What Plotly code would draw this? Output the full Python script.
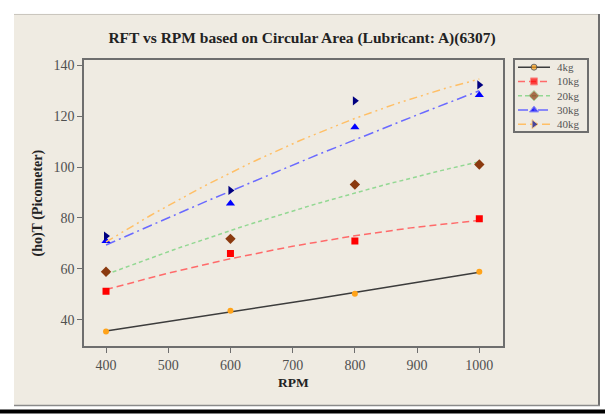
import numpy as np
import plotly.graph_objects as go

# ---- data ----
rpm = [400, 600, 800, 1000]
load_labels = ["4kg", "10kg", "20kg", "30kg", "40kg"]
ho_4kg = [35.4, 43.6, 50.2, 58.9]
ho_10kg = [51.2, 66.0, 71.0, 79.7]
ho_20kg = [58.9, 71.8, 93.1, 101.0]
ho_30kg = [71.0, 85.7, 115.6, 128.3]
ho_40kg = [72.9, 90.8, 126.0, 132.2]
x_ticks = [400, 500, 600, 700, 800, 900, 1000]
y_ticks = [40, 60, 80, 100, 120, 140]

series = [ho_4kg, ho_10kg, ho_20kg, ho_30kg, ho_40kg]

# ---- styles ----
line_colors = ["#3c3c3c", "#ff6a6a", "#93d893", "#6a6aff", "#ffbf66"]
line_dashes = ["solid", "7px,4px", "4px,3px", "10px,4px,2px,4px", "8px,4px,2px,4px,2px,4px"]
marker_colors = ["#ffa31a", "#ff0000", "#8b3a0f", "#0000ff", "#000080"]
marker_symbols = ["circle", "square", "diamond", "triangle-up", "triangle-right"]
marker_sizes = [6, 7, 8, 8, 8]

W, H = 605, 415
FONT = "Liberation Serif"


def fx(px):
    """figure pixel column -> paper x"""
    return px / W


def fy(py):
    """figure pixel row -> paper y"""
    return 1 - py / H


# plot and key boxes (figure pixels)
PLOT_L, PLOT_R, PLOT_T, PLOT_B = 84, 502.7, 58.3, 346
LEG_L, LEG_R, LEG_T, LEG_B = 515, 587, 58.3, 130
LEG_W = LEG_R - LEG_L
KEY_X0, KEY_X1, KEY_TEXT_X = 3, 35, 40

fig = go.Figure()

x_fit = np.linspace(min(rpm), max(rpm), 61)
for i, (name, vals, lc, ld, mc, ms, msz) in enumerate(
        zip(load_labels, series, line_colors, line_dashes,
            marker_colors, marker_symbols, marker_sizes)):
    # quadratic trend through the measured points
    coef = np.polyfit(rpm, vals, 2)
    fig.add_trace(go.Scatter(
        x=x_fit, y=np.polyval(coef, x_fit), mode="lines",
        line=dict(color=lc, width=1.5, dash=ld),
        showlegend=False, hoverinfo="skip"))
    fig.add_trace(go.Scatter(
        x=rpm, y=vals, mode="markers", name=name,
        marker=dict(color=mc, symbol=ms, size=msz),
        showlegend=False))
    # compact key on its own small axes: sample line with marker, one row per load
    fig.add_trace(go.Scatter(
        x=[KEY_X0, (KEY_X0 + KEY_X1) / 2, KEY_X1], y=[i, i, i],
        xaxis="x2", yaxis="y2",
        mode="lines+markers", showlegend=False, hoverinfo="skip",
        line=dict(color=lc, width=1.5, dash=ld),
        marker=dict(color=mc, symbol=ms, size=[0, msz, 0])))

annotations = [
    dict(text=name, x=KEY_TEXT_X, y=i, xref="x2", yref="y2", xanchor="left",
         yanchor="middle", showarrow=False,
         font=dict(family=FONT, size=11, color="#555555"))
    for i, name in enumerate(load_labels)
]

axis_common = dict(
    showgrid=False, zeroline=False, showline=True, mirror=True,
    linecolor="#6e6e6e", linewidth=1.5,
    ticks="outside", ticklen=5, tickwidth=1, tickcolor="#6e6e6e",
    tickfont=dict(family=FONT, size=14, color="#505050"),
)

shapes = [
    # outer panel
    dict(type="rect", xref="paper", yref="paper", layer="below",
         x0=fx(14), x1=fx(598), y0=fy(405), y1=fy(12),
         fillcolor="#efebe2", line=dict(width=0)),
    dict(type="line", xref="paper", yref="paper",
         x0=fx(14), x1=fx(598), y0=fy(12.5), y1=fy(12.5),
         line=dict(color="#c8c4bc", width=1)),
    dict(type="line", xref="paper", yref="paper",
         x0=fx(599), x1=fx(599), y0=fy(406), y1=fy(12),
         line=dict(color="#6e6e6e", width=2)),
    dict(type="line", xref="paper", yref="paper",
         x0=fx(14), x1=fx(600), y0=fy(405.5), y1=fy(405.5),
         line=dict(color="#8a8a8a", width=1.5)),
    dict(type="rect", xref="paper", yref="paper",
         x0=fx(0), x1=fx(605), y0=fy(413.5), y1=fy(409.5),
         fillcolor="#000000", line=dict(width=0)),
]

fig.update_layout(
    width=W, height=H,
    margin=dict(l=0, r=0, t=0, b=0),
    paper_bgcolor="#ffffff",
    plot_bgcolor="#ffffff",
    font=dict(family=FONT, color="#333333"),
    showlegend=False,
    title=dict(text="<b>RFT vs RPM based on Circular Area (Lubricant: A)(6307)</b>",
               font=dict(family=FONT, size=15.5, color="#222222"),
               x=fx(302), xref="paper", xanchor="center",
               y=fy(36), yref="paper", yanchor="middle"),
    xaxis=dict(axis_common, domain=[fx(PLOT_L), fx(PLOT_R)],
               range=[364.6, 1037.6], tickvals=x_ticks, anchor="y",
               title=dict(text="<b>RPM</b>", standoff=6,
                          font=dict(family=FONT, size=13.5, color="#222222"))),
    yaxis=dict(axis_common, domain=[fy(PLOT_B), fy(PLOT_T)],
               range=[29.6, 142], tickvals=y_ticks, anchor="x",
               title=dict(text="<b>(ho)T (Picometer)</b>", standoff=8,
                          font=dict(family=FONT, size=14, color="#222222"))),
    xaxis2=dict(domain=[fx(LEG_L), fx(LEG_R)], range=[0, LEG_W], anchor="y2",
                showgrid=False, zeroline=False, showticklabels=False, ticks="",
                showline=True, mirror=True, linecolor="#6e6e6e", linewidth=1.5),
    yaxis2=dict(domain=[fy(LEG_B), fy(LEG_T)], range=[len(load_labels) - 0.5, -0.5],
                anchor="x2", showgrid=False, zeroline=False, showticklabels=False,
                ticks="", showline=True, mirror=True, linecolor="#6e6e6e", linewidth=1.5),
    annotations=annotations,
    shapes=shapes,
)

fig.write_html("out.html")
